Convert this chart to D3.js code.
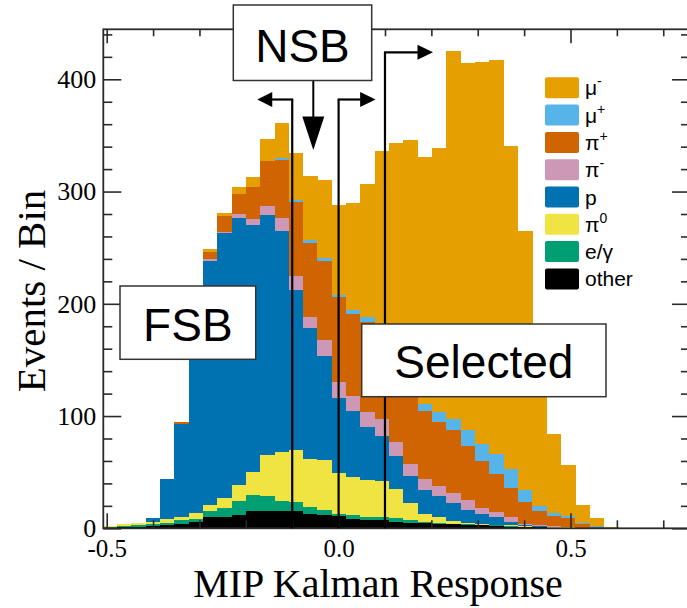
<!DOCTYPE html>
<html>
<head>
<meta charset="utf-8">
<script src="https://cdn.jsdelivr.net/npm/d3@7"></script>
<style>
  body { margin: 0; background: #fff; }
  svg { display: block; }
</style>
</head>
<body>
<div class="chart-container"></div>
<script>
/* Data
   ========================================================================== */
// histogram binning of the MIP Kalman Response
var binStart = -0.509,
    binWidth = 0.0309;

// events per bin for each species (bin 0 = left-most bin)
var other   = [0.5,1,1,2,3,4,5.5,10,10,12,15,15,15,15,13,12,11,8,7.5,7,6,5,4.5,4,3.5,3,2.5,2,1.5,1,1,0.5,0.5,0.3,0.2,0];
var eGamma  = [1,1,1.5,1.5,2,3,3,5,8,12,15,13.5,9,8,6,4.5,2,3.5,2.5,3,3,2.5,1.5,1,0.7,0.5,0.5,0.5,0.5,0.5,0.2,0.2,0.1,0.1,0.1,0];
var pi0     = [0.5,1.5,2,2,3,3,5,5.5,9,15,20,37,44,47,43,44,36,34,33,32,26,15,7,5,2,1,0.5,0.5,0.5,0.5,0.3,0.3,0.2,0.1,0,0];
var proton  = [0,0.3,0.5,3.4,35.5,82.5,158,218,236,237,220,214,197,142,116,93,67,59,47.5,40,29,23.7,21,18.4,16,12,9.2,6.8,3.4,1,0.5,0.5,0.2,0.1,0.1,0];
var piMinus = [0,0,0,0,0,0,1,1.2,1.4,3.6,5.7,7.4,11.8,12.5,9.8,14,14,13.4,13.4,15.5,13.3,11,9.5,9.5,8.9,8.9,5.1,5,3.9,1,0.5,0.5,0.2,0.1,0,0];
var piPlus  = [0,0,0,0,0,2,5,6.8,13.4,17.8,28,40,51.4,66,66.4,71,76,72.7,80,71,71,69,61,57,56.4,48,42,34,26,19.7,13,9,7.7,2.9,1.1,0.3];
var muPlus  = [0,0,0,0,0,0,0,0,0,0,0,0,1.5,2,2.4,2.4,2.1,3.6,4,4,5,6,6,9,9.5,14.3,15.7,17.5,16.6,10.4,4.7,2.4,2.1,0.9,0.5,0.2];
var muMinus = [0,0,0,0.1,0.4,0.5,2,2,3,6.5,9,20,31.7,42,57,69,79.5,96,119,164,190,214,220,235,328,327,340,351,288,231,130,71,45,16,7,1];

// stacking order, bottom to top
var speciesKeys = ["other", "eGamma", "pi0", "proton", "piMinus", "piPlus", "muPlus", "muMinus"];
// legend text (symbol + superscript), same order as speciesKeys
var speciesBase = ["other", "e/\u03B3", "\u03C0", "p", "\u03C0", "\u03C0", "\u03BC", "\u03BC"];
var speciesSup  = ["", "", "0", "", "-", "+", "+", "-"];

// axis ticks
var xTickValues = [-0.5, 0.0, 0.5];
var xTickLabels = ["-0.5", "0.0", "0.5"];
var xMinorTicks = [-0.4, -0.3, -0.2, -0.1, 0.1, 0.2, 0.3, 0.4, 0.6, 0.7];
var yTickValues = [0, 100, 200, 300, 400];
var yMinorTicks = [20, 40, 60, 80, 120, 140, 160, 180, 220, 240, 260, 280, 320, 340, 360, 380, 420, 440];

// selection cuts on the response and the arrow heights (events)
var cutValues = [-0.1, 0.0, 0.1];
var cutArrowLevel = [382, 382, 424];

/* Styles
   ========================================================================== */
var colors = {
    muMinus: "#E69F00",
    muPlus:  "#56B4E9",
    piPlus:  "#CF6400",
    piMinus: "#CC98B6",
    proton:  "#0072B2",
    pi0:     "#F0E442",
    eGamma:  "#009E73",
    other:   "#000000"
};
var frameColor = "#2a2a2a";
var serif = "'Liberation Serif', 'Times New Roman', serif";
var sans = "'Liberation Sans', Arial, sans-serif";

/* Chart
   ========================================================================== */
var W = 687, H = 608;
var frame = { left: 103.3, right: 688, top: 29.3, bottom: 528.3 };

var x = d3.scaleLinear()
    .domain([-0.5, 0.5])
    .range([106.7, 570.5]);
var y = d3.scaleLinear()
    .domain([0, 400])
    .range([frame.bottom, 79.3]);

var svg = d3.select('.chart-container').append("svg")
    .attr("width", W)
    .attr("height", H);

// Build the table for the stack
var rows = muMinus.map(function(d, i) {
    var row = { x0: binStart + i * binWidth, x1: binStart + (i + 1) * binWidth };
    row.other = other[i];
    row.eGamma = eGamma[i];
    row.pi0 = pi0[i];
    row.proton = proton[i];
    row.piMinus = piMinus[i];
    row.piPlus = piPlus[i];
    row.muPlus = muPlus[i];
    row.muMinus = muMinus[i];
    return row;
});

var stacked = d3.stack().keys(speciesKeys)(rows);

var plot = svg.append("g");
plot.selectAll(".layer")
    .data(stacked)
    .enter().append("g")
    .attr("class", "layer")
    .attr("fill", function(d) { return colors[d.key]; })
    .selectAll("rect")
    .data(function(d) { return d; })
    .enter().append("rect")
    .attr("x", function(d) { return x(d.data.x0); })
    .attr("width", function(d) { return x(d.data.x1) - x(d.data.x0) + 0.3; })
    .attr("y", function(d) { return y(d[1]); })
    .attr("height", function(d) { return Math.max(0, y(d[0]) - y(d[1])); })
    .attr("shape-rendering", "crispEdges");

/* Axes and frame
   ========================================================================== */
function styleAxis(g) {
    g.select(".domain").remove();
    g.selectAll(".tick line").attr("stroke", frameColor).attr("stroke-width", 1.6);
    g.selectAll(".tick text")
        .attr("fill", "#000")
        .style("font-family", serif)
        .style("font-size", "25px");
}

svg.append("g")
    .attr("transform", "translate(0," + frame.bottom + ")")
    .call(d3.axisBottom(x).tickValues(xTickValues)
        .tickFormat(function(d, i) { return xTickLabels[i]; })
        .tickSizeInner(-15).tickSizeOuter(0).tickPadding(11))
    .call(styleAxis);
svg.append("g")
    .attr("transform", "translate(0," + frame.bottom + ")")
    .call(d3.axisBottom(x).tickValues(xMinorTicks).tickFormat("")
        .tickSizeInner(-8).tickSizeOuter(0))
    .call(styleAxis);
svg.append("g")
    .attr("transform", "translate(0," + frame.top + ")")
    .call(d3.axisTop(x).tickValues(xTickValues).tickFormat("")
        .tickSizeInner(-14).tickSizeOuter(0))
    .call(styleAxis);
svg.append("g")
    .attr("transform", "translate(0," + frame.top + ")")
    .call(d3.axisTop(x).tickValues(xMinorTicks).tickFormat("")
        .tickSizeInner(-7).tickSizeOuter(0))
    .call(styleAxis);

svg.append("g")
    .attr("transform", "translate(" + frame.left + ",0)")
    .call(d3.axisLeft(y).tickValues(yTickValues).tickFormat(d3.format("d"))
        .tickSizeInner(-18).tickSizeOuter(0).tickPadding(7))
    .call(styleAxis)
    .call(function(g) { g.selectAll(".tick text").style("font-size", "26px"); });
svg.append("g")
    .attr("transform", "translate(" + frame.left + ",0)")
    .call(d3.axisLeft(y).tickValues(yMinorTicks).tickFormat("")
        .tickSizeInner(-9).tickSizeOuter(0))
    .call(styleAxis);
svg.append("g")
    .attr("transform", "translate(" + frame.right + ",0)")
    .call(d3.axisRight(y).tickValues(yTickValues).tickFormat("")
        .tickSizeInner(-16).tickSizeOuter(0))
    .call(styleAxis);
svg.append("g")
    .attr("transform", "translate(" + frame.right + ",0)")
    .call(d3.axisRight(y).tickValues(yMinorTicks).tickFormat("")
        .tickSizeInner(-7).tickSizeOuter(0))
    .call(styleAxis);

svg.append("rect")
    .attr("x", frame.left)
    .attr("y", frame.top)
    .attr("width", frame.right - frame.left)
    .attr("height", frame.bottom - frame.top)
    .attr("fill", "none")
    .attr("stroke", frameColor)
    .attr("stroke-width", 1.8);

// Axis titles
svg.append("text")
    .attr("x", 378)
    .attr("y", 597)
    .attr("text-anchor", "middle")
    .style("font-family", serif)
    .style("font-size", "40px")
    .text("MIP Kalman Response");
svg.append("text")
    .attr("transform", "translate(45,291) rotate(-90)")
    .attr("text-anchor", "middle")
    .style("font-family", serif)
    .style("font-size", "41px")
    .text("Events / Bin");

/* Legend
   ========================================================================== */
var legend = svg.append("g").attr("transform", "translate(545,77.3)");
var legendKeys = speciesKeys.slice().reverse();
legendKeys.forEach(function(key, i) {
    var j = speciesKeys.indexOf(key);
    var row = legend.append("g").attr("transform", "translate(0," + (i * 27.3) + ")");
    row.append("rect")
        .attr("width", 34).attr("height", 21).attr("rx", 2)
        .attr("fill", colors[key]);
    var t = row.append("text")
        .attr("x", 40).attr("y", 18)
        .style("font-family", sans)
        .style("font-size", "21px")
        .text(speciesBase[j]);
    if (speciesSup[j]) {
        t.append("tspan")
            .attr("dy", -9)
            .style("font-size", "14px")
            .text(speciesSup[j]);
    }
});

/* Cut lines and arrows
   ========================================================================== */
var ann = svg.append("g");
function arrowHead(tipX, tipY, dir) {
    // dir: "left", "right", "down"
    var p;
    if (dir === "left") p = [[tipX, tipY], [tipX + 15, tipY - 7.5], [tipX + 15, tipY + 7.5]];
    else if (dir === "right") p = [[tipX, tipY], [tipX - 15.5, tipY - 7.5], [tipX - 15.5, tipY + 7.5]];
    else p = [[tipX, tipY], [tipX - 11, tipY - 33.5], [tipX + 11, tipY - 33.5]];
    ann.append("path").attr("d", d3.line()(p) + "Z").attr("fill", "#000");
}

cutValues.forEach(function(c, i) {
    var cx = x(c), cy = y(cutArrowLevel[i]);
    ann.append("line")
        .attr("x1", cx).attr("x2", cx)
        .attr("y1", frame.bottom).attr("y2", cy)
        .attr("stroke", "#000").attr("stroke-width", 2.2);
    var endX = i === 0 ? cx - 21 : cx + (i === 1 ? 22 : 33);
    ann.append("line")
        .attr("x1", cx - (i === 0 ? -1 : 1)).attr("x2", endX)
        .attr("y1", cy).attr("y2", cy)
        .attr("stroke", "#000").attr("stroke-width", 2.2);
    if (i === 0) arrowHead(endX - 14, cy, "left");
    else arrowHead(endX + 15, cy, "right");
});

// NSB down arrow
ann.append("line")
    .attr("x1", 313.3).attr("x2", 313.3)
    .attr("y1", 80).attr("y2", 118)
    .attr("stroke", "#000").attr("stroke-width", 2);
arrowHead(313.3, 150, "down");

/* Region boxes
   ========================================================================== */
var boxes = [
    { label: "NSB", x0: 233.3, x1: 371.7, y0: 5, y1: 80.5, base: 62 },
    { label: "FSB", x0: 120, x1: 255.7, y0: 286, y1: 359.3, base: 341 },
    { label: "Selected", x0: 361.7, x1: 606, y0: 324, y1: 396.7, base: 378 }
];
boxes.forEach(function(b) {
    svg.append("rect")
        .attr("x", b.x0).attr("y", b.y0)
        .attr("width", b.x1 - b.x0).attr("height", b.y1 - b.y0)
        .attr("fill", "#fff")
        .attr("stroke", "#333")
        .attr("stroke-width", 1.5);
    svg.append("text")
        .attr("x", (b.x0 + b.x1) / 2)
        .attr("y", b.base)
        .attr("text-anchor", "middle")
        .style("font-family", sans)
        .style("font-size", "46px")
        .text(b.label);
});
</script>
</body>
</html>
